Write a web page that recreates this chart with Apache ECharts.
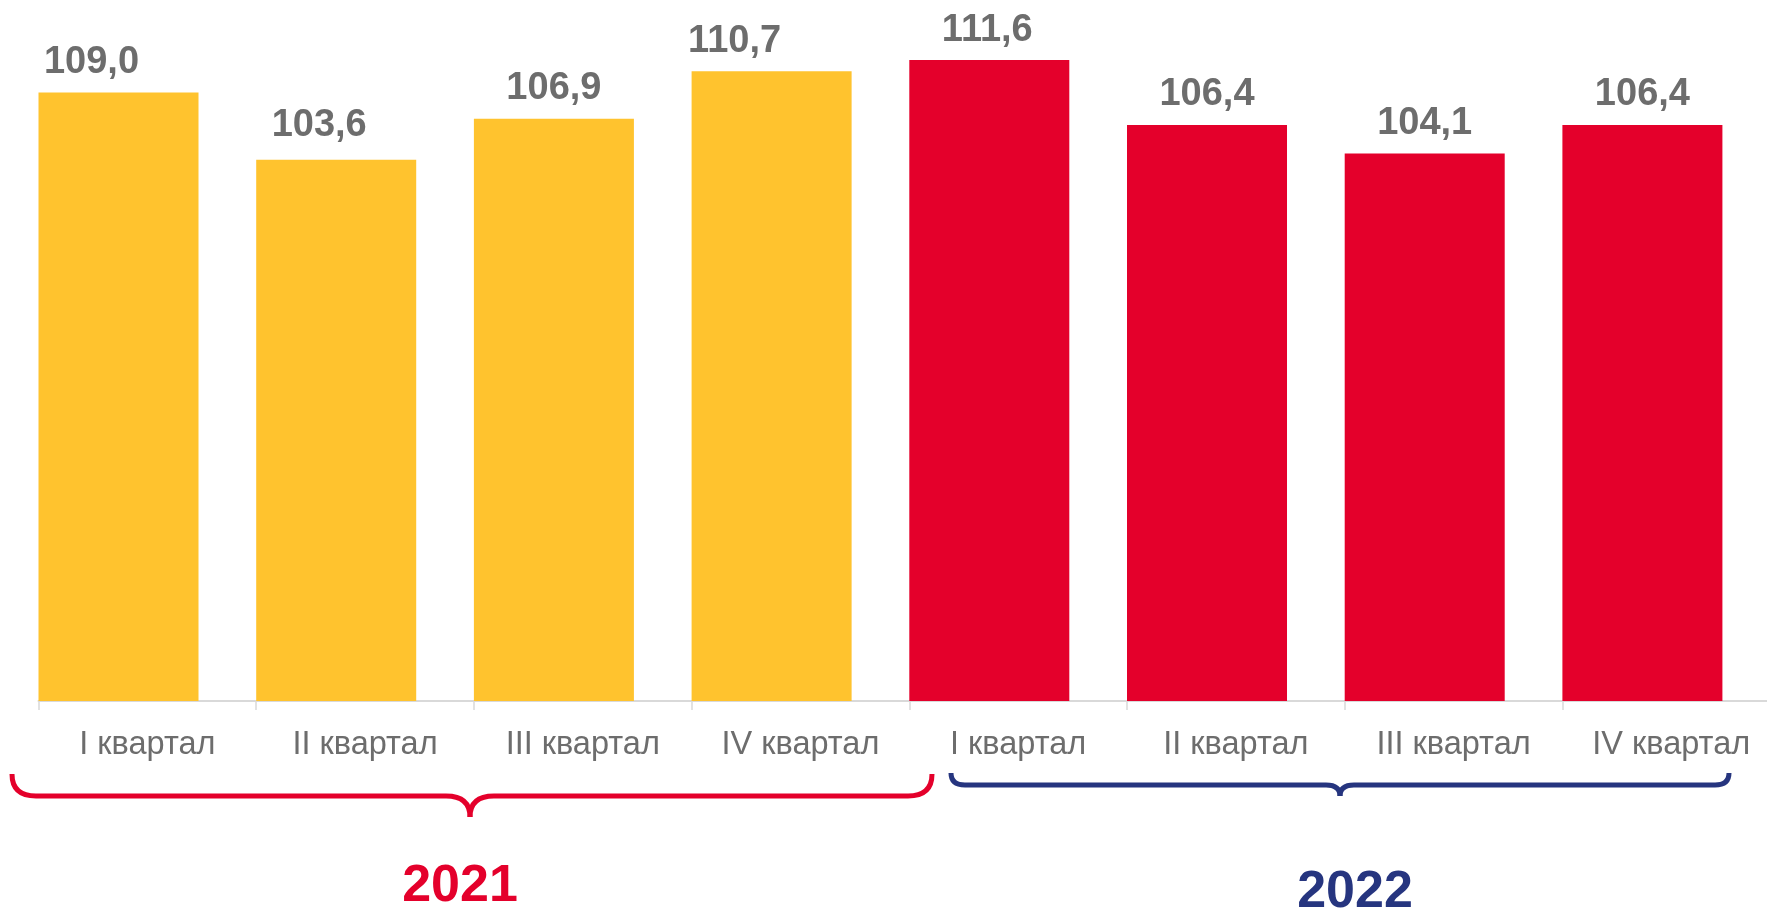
<!DOCTYPE html>
<html>
<head>
<meta charset="utf-8">
<script src="https://cdn.jsdelivr.net/npm/echarts@6/dist/echarts.min.js"></script>
<style>
html,body{margin:0;padding:0;background:#fff;overflow:hidden;}
#chart{width:1800px;height:910px;}
</style>
</head>
<body>
<div id="chart"></div>
<script>
const categories = ['I квартал', 'II квартал', 'III квартал', 'IV квартал', 'I квартал', 'II квартал', 'III квартал', 'IV квартал'];
const values2021 = [109.0, 103.6, 106.9, 110.7];
const values2022 = [111.6, 106.4, 104.1, 106.4];
const years = ['2021', '2022'];

const COLOR_2021 = '#FFC32E';
const COLOR_2022 = '#E4002B';
const COLOR_NAVY = '#26357F';
const TEXT_GRAY = '#6D6D6D';
const labelShift = [[-27, 0], [-17, -4], [0, 0], [-37, 0], [-2, 0], [0, 0], [0, 0], [0, 0]];

const allValues = values2021.concat(values2022);
const barData = allValues.map((v, i) => ({
  value: v,
  itemStyle: { color: i < values2021.length ? COLOR_2021 : COLOR_2022 },
  label: { offset: labelShift[i] }
}));

function brace(x1, x2, xm, yTop, yLine, yTip, r, color) {
  const st = { stroke: color, lineWidth: 5, fill: null, lineCap: 'butt' };
  const mk = (type, shape) => ({ type: type, shape: shape, style: Object.assign({}, st), silent: true });
  return [
    mk('bezierCurve', { x1: x1, y1: yTop, cpx1: x1, cpy1: yLine, x2: x1 + r, y2: yLine }),
    mk('line', { x1: x1 + r, y1: yLine, x2: xm - r, y2: yLine }),
    mk('bezierCurve', { x1: xm - r, y1: yLine, cpx1: xm, cpy1: yLine, x2: xm, y2: yTip }),
    mk('bezierCurve', { x1: xm, y1: yTip, cpx1: xm, cpy1: yLine, x2: xm + r, y2: yLine }),
    mk('line', { x1: xm + r, y1: yLine, x2: x2 - r, y2: yLine }),
    mk('bezierCurve', { x1: x2 - r, y1: yLine, cpx1: x2, cpy1: yLine, x2: x2, y2: yTop })
  ];
}

const chart = echarts.init(document.getElementById('chart'));
chart.setOption({
  animation: false,
  grid: { left: 38.5, top: 52.6, width: 1741.6, height: 648.4, containLabel: false, outerBoundsMode: 'none' },
  xAxis: {
    type: 'category',
    data: categories,
    boundaryGap: true,
    axisLine: { lineStyle: { color: '#D9D9D9', width: 2 } },
    axisTick: { show: true, length: 9, lineStyle: { color: '#D9D9D9', width: 1.5 } },
    axisLabel: { color: TEXT_GRAY, fontSize: 32.5, fontFamily: 'Liberation Sans', margin: 28, interval: 0 }
  },
  yAxis: { type: 'value', min: 60.2, max: 112.2, show: false, splitLine: { show: false } },
  series: [
    {
      type: 'bar',
      data: barData,
      barWidth: '73.5%',
      barGap: '0%',
      label: {
        show: true,
        position: 'top',
        distance: 11,
        color: TEXT_GRAY,
        fontSize: 38,
        fontWeight: 'bold',
        fontFamily: 'Liberation Sans',
        formatter: p => p.value.toFixed(1).replace('.', ',')
      }
    },
    {
      type: 'bar',
      data: categories.map(() => null),
      barWidth: '26.5%',
      barGap: '0%',
      silent: true
    }
  ],
  graphic: [].concat(
    brace(12, 932, 470, 774, 796, 817, 24, COLOR_2022),
    brace(951, 1729, 1340, 773, 785, 796, 14, COLOR_NAVY),
    [
      {
        type: 'text', x: 460, y: 887,
        style: { text: years[0], fill: COLOR_2022, font: 'bold 52px "Liberation Sans"', align: 'center', verticalAlign: 'middle' }
      },
      {
        type: 'text', x: 1355, y: 893,
        style: { text: years[1], fill: COLOR_NAVY, font: 'bold 52px "Liberation Sans"', align: 'center', verticalAlign: 'middle' }
      }
    ]
  )
});
</script>
</body>
</html>
